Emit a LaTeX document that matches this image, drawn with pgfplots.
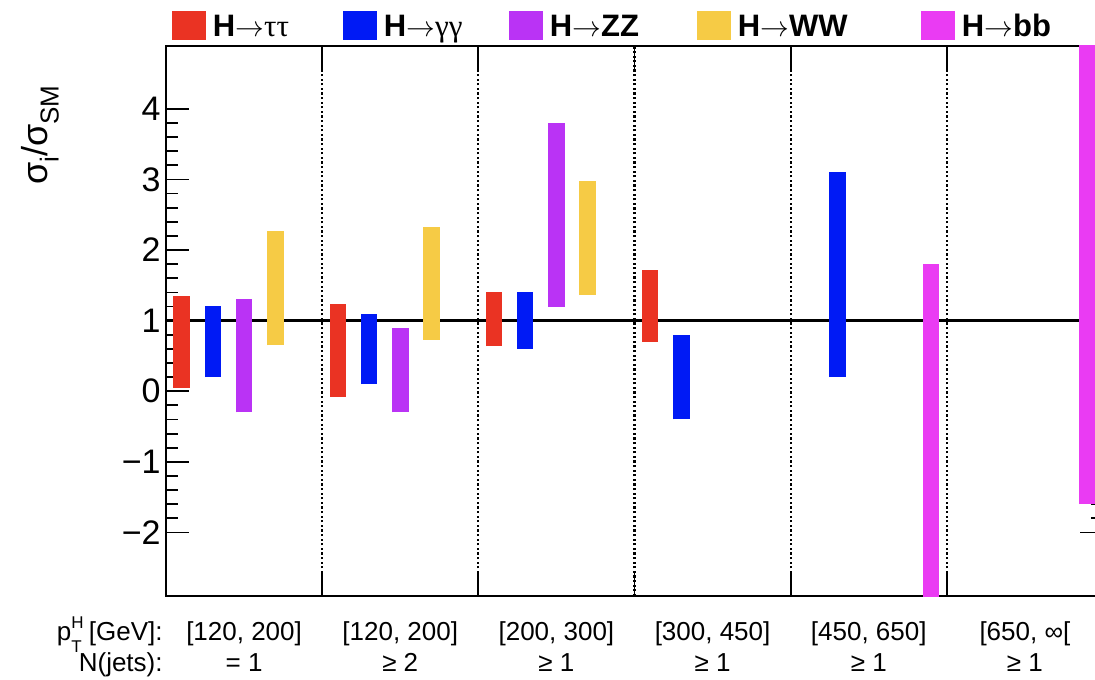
\documentclass[border=0pt]{standalone}
\usepackage{pgfplots}
\pgfplotsset{compat=1.18}
\usepackage{pgfplotstable}
\usepackage{fontspec}
\setmainfont{Liberation Sans}
\newfontfamily\serifgr{Liberation Serif}
\definecolor{cTau}{RGB}{234,51,35}
\definecolor{cGam}{RGB}{0,26,245}
\definecolor{cZZ}{RGB}{186,51,245}
\definecolor{cWW}{RGB}{246,203,69}
\definecolor{cBB}{RGB}{234,59,243}

\pgfplotstableread{
x lo hi
0.1 0.05 1.35
1.1 -0.08 1.23
2.1 0.64 1.40
3.1 0.70 1.72
}\tautau
\pgfplotstableread{
x lo hi
0.3 0.20 1.21
1.3 0.10 1.10
2.3 0.60 1.40
3.3 -0.40 0.80
4.3 0.20 3.10
}\gamgam
\pgfplotstableread{
x lo hi
0.5 -0.30 1.30
1.5 -0.30 0.90
2.5 1.20 3.80
}\zz
\pgfplotstableread{
x lo hi
0.7 0.65 2.27
1.7 0.73 2.33
2.7 1.36 2.98
}\ww
\pgfplotstableread{
x lo hi
4.9 -3.50 1.80
5.9 -1.60 6.00
}\bb

\pgfplotsset{
  rangebar/.style={draw=none, mark=none,
    legend image code/.code={\fill[#1] (0pt,-7.25pt) rectangle (17pt,7.25pt);},
    error bars/.cd, y dir=plus, y explicit, error mark=none,
    error bar style={line width=8.25pt, draw=#1, line cap=butt}},
}
\newcommand{\arr}{\mbox{\mdseries$\rightarrow$}}

\begin{document}
\begin{tikzpicture}
\useasboundingbox (-83pt,-41.5pt) rectangle (464.5pt,298pt);
\clip (-83pt,-41.5pt) rectangle (464.5pt,298pt);
\begin{axis}[
  name=ax,
  at={(0pt,0pt)}, anchor=south west,
  scale only axis, width=468.5pt, height=275pt,
  xmin=0, xmax=6, ymin=-2.9, ymax=4.89,
  clip mode=individual,
  axis line style={line width=1pt},
  xtick={1,2,3,4,5}, xticklabels={},
  xmajorgrids,
  major grid style={black, line width=1.1pt, dash pattern=on 1.1pt off 1.2pt},
  ytick={-2,-1,0,1,2,3,4},
  yticklabels={−2,−1,0,1,2,3,4},
  minor y tick num=4,
  tick style={black, line width=0.9pt},
  major tick length=11.5pt, minor tick length=6pt,
  tick align=inside,
  yticklabel style={font=\fontsize{17}{20}\selectfont, inner xsep=2.5pt},
  extra x ticks={0.5,1.5,2.5,3.5,4.5,5.5},
  extra x tick labels={{[120, 200]\\= 1},{[120, 200]\\≥ 2},{[200, 300]\\≥ 1},{[300, 450]\\≥ 1},{[450, 650]\\≥ 1},{[650, ∞[\\≥ 1}},
  extra x tick style={major tick length=0pt, grid=none,
    tick label style={align=center, font=\fontsize{13}{15.5}\selectfont, anchor=north, inner sep=0pt, yshift=-12.5pt}},
  ylabel={σ\raisebox{-0.6ex}{\fontsize{13}{13}\selectfont i}/σ\raisebox{-0.6ex}{\fontsize{13}{13}\selectfont SM}},
  ylabel style={at={(axis description cs:-0.1345,0.838)}, anchor=center, font=\fontsize{18}{20}\selectfont},
  legend columns=5,
  legend style={at={(axis description cs:0.0064,1.0373)}, anchor=west, draw=none, fill=none,
    inner sep=0pt, outer sep=0pt, nodes={inner sep=0pt, text depth=0pt}, cells={anchor=west},
    column sep=0pt, font=\bfseries\fontsize{15.5}{18}\selectfont},
]
\addplot[black, line width=1.5pt, forget plot] coordinates {(0,1) (6,1)};

\addplot[rangebar=cTau] table[x=x, y=lo, y error expr=\thisrow{hi}-\thisrow{lo}] {\tautau};
\addlegendentry{\makebox[68.5pt][l]{\hspace{3.5pt}H\arr{\serifgr\mdseries ττ}}}
\addplot[rangebar=cGam] table[x=x, y=lo, y error expr=\thisrow{hi}-\thisrow{lo}] {\gamgam};
\addlegendentry{\makebox[66pt][l]{\hspace{3.5pt}H\arr{\serifgr\mdseries γγ}}}
\addplot[rangebar=cZZ] table[x=x, y=lo, y error expr=\thisrow{hi}-\thisrow{lo}] {\zz};
\addlegendentry{\makebox[77pt][l]{\hspace{3.5pt}H\arr ZZ}}
\addplot[rangebar=cWW] table[x=x, y=lo, y error expr=\thisrow{hi}-\thisrow{lo}] {\ww};
\addlegendentry{\makebox[95pt][l]{\hspace{3.5pt}H\arr WW}}
\addplot[rangebar=cBB] table[x=x, y=lo, y error expr=\thisrow{hi}-\thisrow{lo}] {\bb};
\addlegendentry{\makebox[50pt][l]{\hspace{3.5pt}H\arr bb}}
\end{axis}
\node[anchor=base east, inner sep=0pt, font=\fontsize{13}{15.5}\selectfont] at ([xshift=-1.5pt,yshift=-22pt]ax.south west)
  {p\rlap{\raisebox{0.85ex}{\fontsize{8.5}{8.5}\selectfont H}}\raisebox{-0.9ex}{\fontsize{8.5}{8.5}\selectfont T} [GeV]:};
\node[anchor=base east, inner sep=0pt, font=\fontsize{13}{15.5}\selectfont] at ([xshift=-1.5pt,yshift=-37.5pt]ax.south west)
  {N(jets):};
\end{tikzpicture}
\end{document}
